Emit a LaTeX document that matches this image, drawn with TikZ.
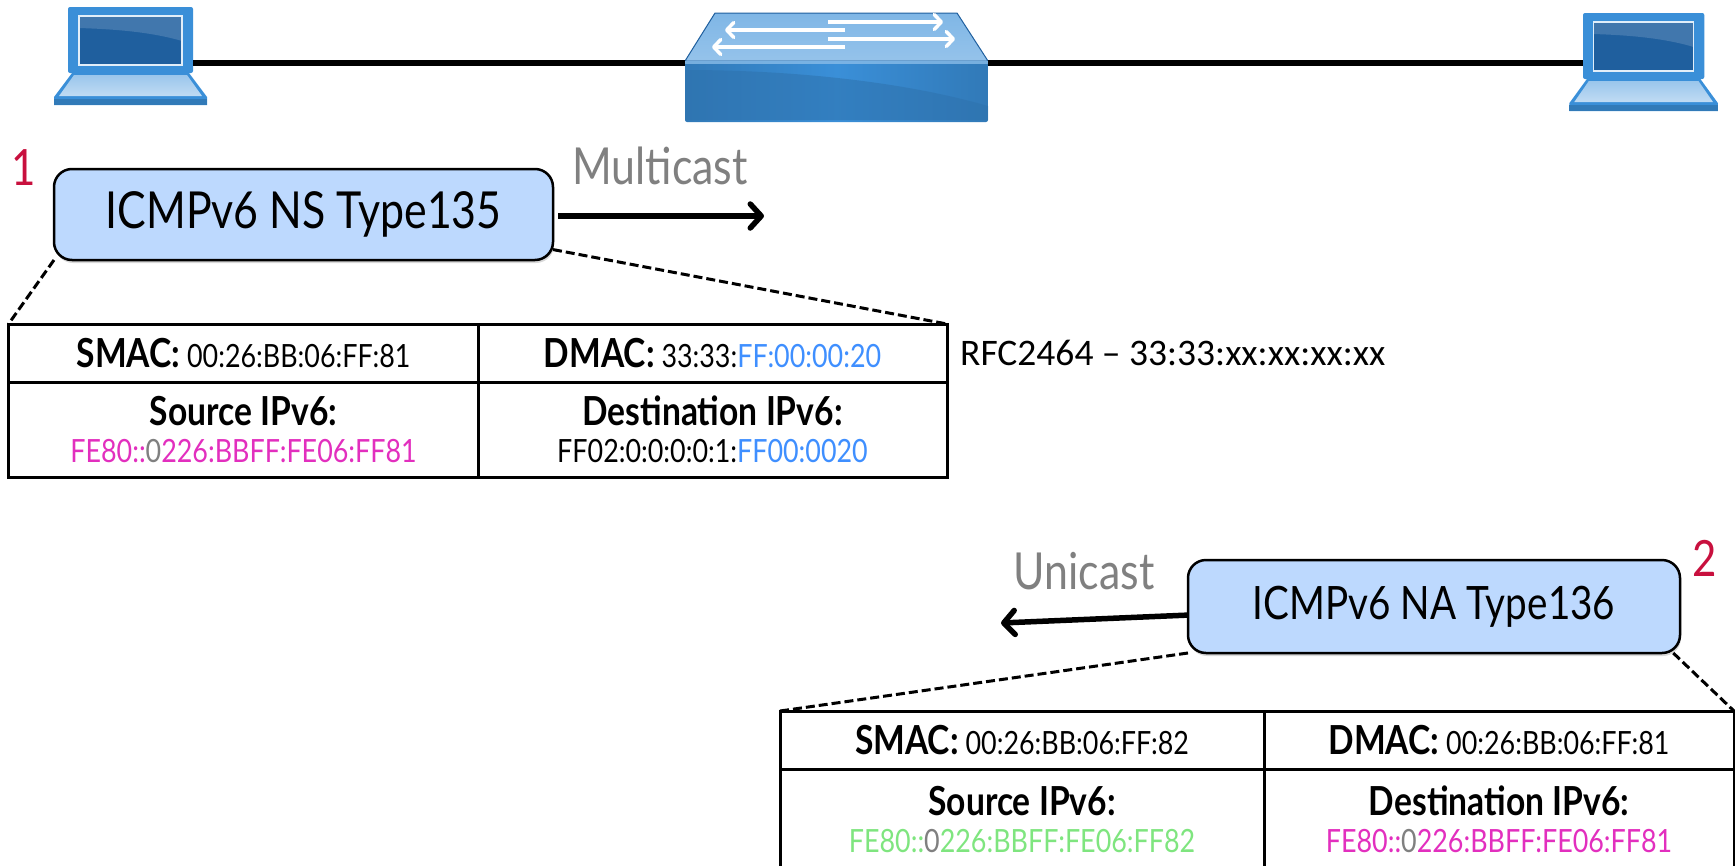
\documentclass[tikz,border=0pt]{standalone}
\usepackage{fontspec}
\usetikzlibrary{arrows.meta,shadows}
\setmainfont[FakeStretch=0.84]{Lato}
\newfontfamily\rfcfont{Carlito}

\definecolor{boxblue}{HTML}{BDD9FE}
\definecolor{numred}{HTML}{C8103E}
\definecolor{castgray}{HTML}{808080}
\definecolor{linkpink}{HTML}{E22FBE}
\definecolor{hostgreen}{HTML}{7FE57F}
\definecolor{solblue}{HTML}{3F8FFF}
\definecolor{icondark}{HTML}{1F5F9E}
\definecolor{iconmid}{HTML}{3A8FD8}
\definecolor{iconlight}{HTML}{A5CCEE}

\newcommand{\pinkaddr}[1]{\textcolor{linkpink}{FE80::}\textcolor{castgray}{0}\textcolor{linkpink}{226:BBFF:FE06:FF#1}}
\newcommand{\greenaddr}[1]{\textcolor{hostgreen}{FE80::}\textcolor{castgray}{0}\textcolor{hostgreen}{226:BBFF:FE06:FF#1}}
\newcommand{\celllabel}[1]{{\fontsize{40}{39}\selectfont\bfseries #1}}

\tikzset{
  msgbox/.style={draw, fill=boxblue, line width=2.5pt, rounded corners=18pt, inner sep=0pt, outer sep=0pt,
    drop shadow={shadow xshift=1pt, shadow yshift=-3pt, opacity=0.3}},
  tablecell/.style={draw, line width=3pt, inner sep=0pt, outer sep=0pt, align=center,
    font=\fontsize{32}{39}\selectfont},
  casttext/.style={text=castgray, font=\fontsize{51}{60}\selectfont},
  numtext/.style={text=numred, font=\fontsize{50}{60}\selectfont},
  zoomline/.style={line width=3pt, dash pattern=on 9pt off 4pt},
  castarrow/.style={line width=5.5pt, -{Straight Barb[length=11pt,width=24pt,round]}},
  wireline/.style={line width=6pt},
  switcharrow/.style={white, line width=3.5pt, -{Straight Barb[length=7pt,width=15pt,round]}},
  laptop/.pic={
    \coordinate (-port) at (0,50);
    \coordinate (-portr) at (125,56);
    \fill [iconmid, rounded corners=2pt] (0,0) rectangle (125,66);
    \fill [icondark] (11,9) rectangle (114,58);
    \fill [icondark!85!white] (11,9) -- (114,9) -- (114,34) .. controls (80,24) and (40,22) .. (11,21) -- cycle;
    \draw [white!85!iconmid, line width=1.5pt] (11,9) rectangle (114,58);
    \fill [iconmid] (4,66) -- (121,66) -- (139,90) -- (139,98) -- (-14,98) -- (-14,90) -- cycle;
    \shade [top color=iconlight!90!iconmid, bottom color=iconlight!70!white] (6,68) -- (119,68) -- (134,89) -- (-9,89) -- cycle;
    \fill [iconmid!85!black] (-14,92) rectangle (139,98);
  },
  switchbox/.pic={
    \coordinate (-left) at (0,3);
    \coordinate (-right) at (303,3);
    \shade [top color=iconmid!65!white, bottom color=iconlight!85!iconmid, draw=icondark, line width=1pt]
      (30,-47) -- (272,-47) -- (303,1) -- (0,1) -- cycle;
    \shade [left color=iconmid!85!black, right color=iconmid!85!black, middle color=iconmid, rounded corners=2pt]
      (0,1) rectangle (303,62);
    \fill [iconmid!80!black, opacity=0.55] (0,10) .. controls (110,10) and (220,22) .. (303,46) -- (303,60) -- (0,60) -- cycle;
    \fill [iconmid!60!white, opacity=0.8] (0,1) rectangle (303,4);
    \foreach \ya/\xa/\xb in {-38/143/258,-21/143/270} {
      \draw [switcharrow] (\xa,\ya) -- (\xb,\ya);
    }
    \foreach \ya/\xa/\xb in {-30/160/40,-13/160/27} {
      \draw [switcharrow] (\xa,\ya) -- (\xb,\ya);
    }
  }
}

\begin{document}
\begin{tikzpicture}[x=1pt, y=-1pt]

\useasboundingbox (0,0) rectangle (1735,865);

% icons and wire
\pic (hosta) at (68,7) {laptop};
\pic (hostb) [xscale=0.97] at (1583,13) {laptop};
\pic (switch) at (685,60) {switchbox};
\draw [wireline] (hosta-portr) -- (switch-left);
\draw [wireline] (switch-right) -- (hostb-port);

% neighbor solicitation
\node [msgbox, minimum width=499pt, minimum height=91pt, font=\fontsize{51}{60}\selectfont] (nsbox) at (303.5,214.5) {ICMPv6 NS Type135};
\node [numtext] (nsnum) at (24,168) {1};
\node [casttext] (mcast) at (660,166) {Multicast};
\coordinate (mcastend) at (764,216);
\draw [castarrow, shorten <=5pt] (nsbox.east |- mcastend) -- (mcastend);

\node [tablecell, minimum width=470pt, minimum height=58pt] (nssmac) at (243.5,353) {\celllabel{SMAC:} 00:26:BB:06:FF:81};
\node [tablecell, minimum width=469pt, minimum height=58pt] (nsdmac) at (712.5,353) {\celllabel{DMAC:} 33:33:\textcolor{solblue}{FF:00:00:20}};
\node [tablecell, minimum width=470pt, minimum height=95pt] (nssrc) at (243.5,429.5) {\celllabel{Source IPv6:}\\[-2pt]\pinkaddr{81}};
\node [tablecell, minimum width=469pt, minimum height=95pt] (nsdst) at (712.5,429.5) {\celllabel{Destination IPv6:}\\[-2pt]FF02:0:0:0:0:1:\textcolor{solblue}{FF00:0020}};
\draw [zoomline] (nsbox.south west) -- (nssmac.north west);
\draw [zoomline] (nsbox.-8) -- (nsdmac.north east);
\node [anchor=west, inner sep=0pt, font=\rfcfont\fontsize{37.5}{42}\selectfont] (rfc) at (960,353) {RFC2464 – 33:33:xx:xx:xx:xx};

% neighbor advertisement
\node [msgbox, minimum width=492pt, minimum height=93pt, font=\fontsize{46}{54}\selectfont] (nabox) at (1434,606.5) {ICMPv6 NA Type136};
\node [numtext] (nanum) at (1705,558) {2};
\node [casttext] (ucast) at (1084,571) {Unicast};
\coordinate (ucastend) at (1001,623);
\draw [castarrow] (nabox.182.4) -- (ucastend);

\node [tablecell, minimum width=484pt, minimum height=58pt] (nasmac) at (1022,740) {\celllabel{SMAC:} 00:26:BB:06:FF:82};
\node [tablecell, minimum width=470pt, minimum height=58pt] (nadmac) at (1499,740) {\celllabel{DMAC:} 00:26:BB:06:FF:81};
\node [tablecell, minimum width=484pt, minimum height=100pt] (nasrc) at (1022,819) {\celllabel{Source IPv6:}\\[-2pt]\greenaddr{82}};
\node [tablecell, minimum width=470pt, minimum height=100pt] (nadst) at (1499,819) {\celllabel{Destination IPv6:}\\[-2pt]\pinkaddr{81}};
\draw [zoomline] (nabox.south west) -- (nasmac.north west);
\draw [zoomline] (nabox.-11.1) -- (nadmac.north east);

\end{tikzpicture}
\end{document}
